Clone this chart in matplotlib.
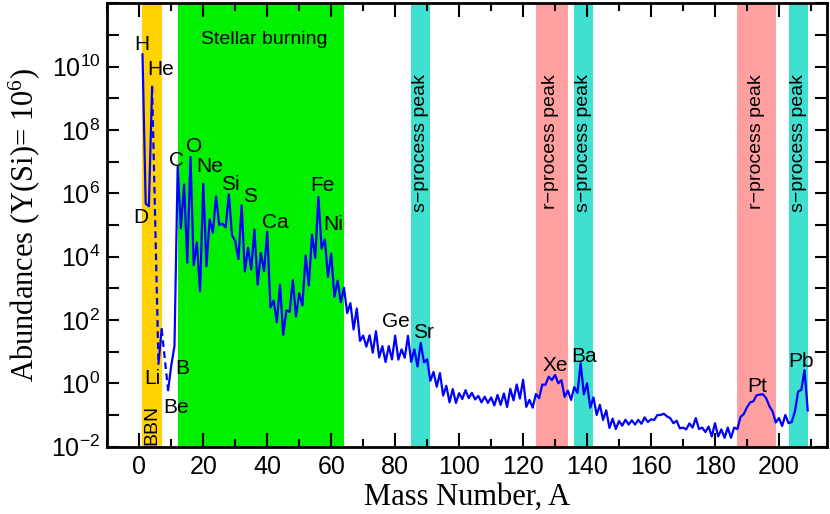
import numpy as np
import matplotlib
matplotlib.use("Agg")
import matplotlib.pyplot as plt
from matplotlib.ticker import FixedLocator, MultipleLocator, FuncFormatter

plt.rcParams['font.family'] = ['Liberation Sans', 'DejaVu Sans']

# solar system abundances per mass number (Si = 1e6); A = 5 and 8 do not exist
mass = [1, 2, 3, 4, 6, 7] + list(range(9, 210))
abund = [
    2.43e10, 4.7e5, 3.9e5, 2.29e9,           # 1-4
    4.2, 51.0,                               # 6-7
    0.61, 3.7, 15.0,                         # 9-11
    7.0e6, 7.9e4, 1.9e6, 6.5e3, 1.41e7,      # 12-16
    5.4e3, 2.8e4, 800, 2.0e6, 5.0e3,         # 17-21
    1.5e5, 5.75e4, 8.0e5, 1.0e5, 1.1e5,      # 22-26
    8.4e4, 9.2e5, 4.7e4, 3.1e4, 8.4e3,       # 27-31
    4.2e5, 3.4e3, 1.9e4, 3.9e3, 7.2e4,       # 32-36
    1.3e3, 1.3e4, 3.5e3, 6.1e4, 250,         # 37-41
    410, 85, 1310, 34, 200,                  # 42-46
    180, 1790, 130, 690, 290,                # 47-51
    1.08e4, 1230, 4.9e4, 9.2e3, 7.7e5,       # 52-56
    1.8e4, 3.5e4, 2300, 1.25e4, 545,         # 57-61
    1740, 370, 1040, 165, 340,               # 62-66
    50, 230, 21.8, 32, 14.4,                 # 67-71
    33, 9.3, 44, 6.6, 15,                    # 72-76
    4.7, 15, 5.7, 32, 5.6,                   # 77-81
    11.8, 6.4, 31.7, 4.8, 11.8,              # 82-86
    3.4, 19, 4.6, 5.7, 1.2,                  # 87-91
    2.3, 0.78, 2.1, 0.41, 0.84,              # 92-96
    0.25, 0.66, 0.24, 0.49, 0.32,            # 97-101
    0.61, 0.34, 0.50, 0.31, 0.40,            # 102-106
    0.25, 0.38, 0.24, 0.36, 0.20,            # 107-111
    0.43, 0.21, 0.48, 0.18, 0.67,            # 112-116
    0.29, 0.92, 0.33, 1.3, 0.18,             # 117-121
    0.30, 0.17, 0.46, 0.34, 0.91,            # 122-126
    0.90, 1.62, 1.27, 1.83, 1.0,             # 127-131
    1.25, 0.37, 0.59, 0.30, 0.76,            # 132-136
    0.50, 4.3, 0.45, 1.0, 0.17,              # 137-141
    0.36, 0.10, 0.21, 0.070, 0.14,           # 142-146
    0.039, 0.077, 0.036, 0.065, 0.046,       # 147-151
    0.071, 0.050, 0.068, 0.050, 0.070,       # 152-156
    0.053, 0.084, 0.060, 0.073, 0.070,       # 157-161
    0.10, 0.10, 0.11, 0.090, 0.080,          # 162-166
    0.055, 0.066, 0.038, 0.040, 0.035,       # 167-171
    0.054, 0.040, 0.080, 0.036, 0.040,       # 172-176
    0.029, 0.043, 0.021, 0.055, 0.021,       # 177-181
    0.035, 0.019, 0.040, 0.019, 0.040,       # 182-186
    0.036, 0.088, 0.107, 0.175, 0.25,        # 187-191
    0.27, 0.42, 0.44, 0.45, 0.34,            # 192-196
    0.19, 0.13, 0.058, 0.080, 0.045,         # 197-201
    0.10, 0.055, 0.060, 0.13, 0.55,          # 202-206
    0.62, 2.6, 0.14,                         # 207-209
]

# shaded regions (A ranges)
band_lo = [1, 12, 85, 124, 136, 187, 203]
band_hi = [7, 64, 91, 134, 142, 199, 209]
band_col = ['#ffd200', '#00f000', '#40e0d0', '#ffa0a0', '#40e0d0', '#ffa0a0', '#40e0d0']

elements = ['H', 'He', 'D', 'Li', 'Be', 'B', 'C', 'O', 'Ne', 'Si', 'S', 'Ca',
            'Fe', 'Ni', 'Ge', 'Sr', 'Xe', 'Ba', 'Pt', 'Pb']
elem_x = [0.9, 6.6, 0.4, 4.0, 11.4, 13.5, 11.6, 17.0, 22.1, 28.4, 34.5, 42.4,
          57.3, 60.7, 80.1, 89.0, 130.1, 139.0, 193.2, 206.9]
elem_logy = [10.52, 9.73, 5.05, -0.03, -0.95, 0.28, 6.86, 7.32, 6.68, 6.10, 5.73, 4.89,
             6.08, 4.84, 1.77, 1.42, 0.40, 0.68, -0.27, 0.52]

peak_names = ['s\u2212process peak', 'r\u2212process peak', 's\u2212process peak',
              'r\u2212process peak', 's\u2212process peak']
peak_x = [88.0, 128.5, 139.0, 193.0, 206.0]

mass = np.array(mass)
abund = np.array(abund)

fig = plt.figure(figsize=(8.3, 5.14), dpi=100)
ax = fig.add_axes([0.1293, 0.131, 0.867, 0.8626])

for lo, hi, c in zip(band_lo, band_hi, band_col):
    ax.axvspan(lo, hi, color=c, lw=0, zorder=0)

# solid where consecutive mass numbers exist, dashed across the gaps
breaks = np.where(np.diff(mass) > 1)[0]
starts = np.r_[0, breaks + 1]
ends = np.r_[breaks + 1, len(mass)]
for s, e in zip(starts, ends):
    ax.plot(mass[s:e], abund[s:e], color='#0000ff', lw=1.6, zorder=3)
for b in breaks:
    ax.plot(mass[b:b + 2], abund[b:b + 2], color='#0000ff', lw=1.6,
            dashes=[3, 2], zorder=3)

ax.set_yscale('log')
ax.set_xlim(-10, 215)
ax.set_ylim(1e-2, 1e12)

ax.xaxis.set_major_locator(MultipleLocator(20))
ax.xaxis.set_minor_locator(MultipleLocator(10))
ax.yaxis.set_major_locator(FixedLocator([10.0 ** k for k in range(-2, 13)]))
ax.yaxis.set_minor_locator(FixedLocator([]))


def ylab(v, pos):
    k = int(round(np.log10(v)))
    if k % 2 == 0 and k <= 10:
        return r'$\mathregular{10^{%d}}$' % k
    return ''


ax.yaxis.set_major_formatter(FuncFormatter(ylab))

ax.tick_params(which='both', direction='in', top=True, right=True, width=1.5,
               labelsize=18)
ax.tick_params(axis='x', which='major', length=10, pad=6)
ax.tick_params(axis='x', which='minor', length=6)
ax.tick_params(axis='y', which='major', length=8.5, pad=5)
for sp in ax.spines.values():
    sp.set_linewidth(2)

ax.set_xlabel('Mass Number, A', family='Liberation Serif', fontsize=22, labelpad=3)
ax.set_ylabel(r'Abundances (Y(Si)= 10$\mathregular{^6}$)', family='Liberation Serif',
              fontsize=22, labelpad=7)

for name, x, ly in zip(elements, elem_x, elem_logy):
    ax.text(x, 10 ** ly, name, fontsize=15, ha='center', va='baseline', zorder=4)

ax.text(39, 10 ** 10.7, 'Stellar burning', fontsize=14, ha='center', va='baseline')
ax.text(3.9, 10 ** -1.95, 'BBN', fontsize=14, rotation=90, ha='center', va='bottom')
for name, x in zip(peak_names, peak_x):
    ax.text(x, 10 ** 9.77, name, fontsize=14, rotation=90, ha='center', va='top')

fig.savefig('out.png', dpi=100)
